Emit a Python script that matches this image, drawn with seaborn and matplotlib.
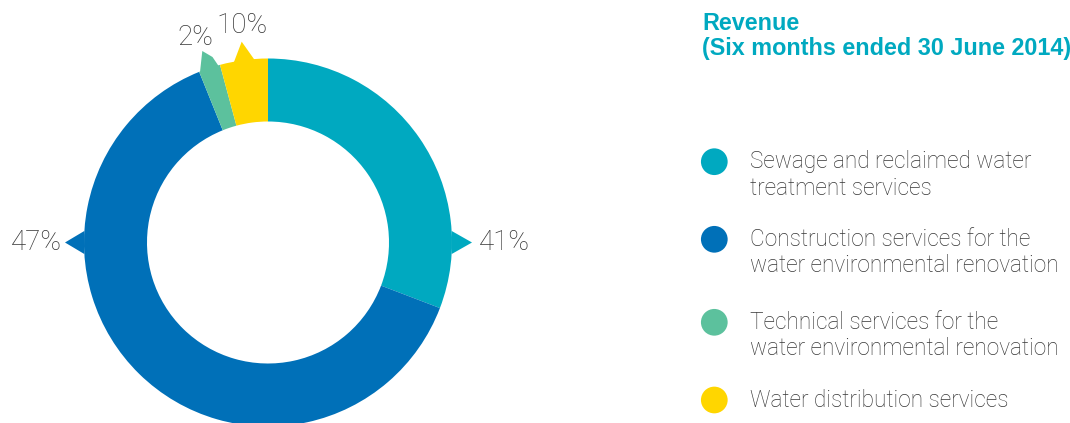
import numpy as np
import pandas as pd
import seaborn as sns
import matplotlib.pyplot as plt
from matplotlib.patches import Polygon

# segments, clockwise from 12 o'clock
segments = [
    "Sewage and reclaimed water\ntreatment services",
    "Construction services for the\nwater environmental renovation",
    "Technical services for the\nwater environmental renovation",
    "Water distribution services",
]
pct_labels = ["41%", "47%", "2%", "10%"]
# arc share of each segment as drawn in the picture (degrees of ring / 3.6)
arc_share = [30.8, 63.1, 1.9, 4.2]
colors = ["#00A9C0", "#0070B8", "#5CC19D", "#FFD600"]

title = "Revenue\n(Six months ended 30 June 2014)"

sns.set_theme(style="white")
plt.rcParams["font.family"] = ["Roboto", "DejaVu Sans"]

W, H = 1070, 423
fig = plt.figure(figsize=(W / 100, H / 100), dpi=100)
ax = fig.add_axes([0, 0, 1, 1])

cx, cy = 268, H - 242.5
r_out, r_in = 184, 121

wedges, _ = ax.pie(
    arc_share,
    colors=colors,
    startangle=90,
    counterclock=False,
    radius=r_out,
    center=(cx, cy),
    wedgeprops=dict(width=r_out - r_in, linewidth=0),
)
ax.set_xlim(0, W)
ax.set_ylim(0, H)
ax.set_aspect("equal")
ax.axis("off")


def on_ring(deg, r=r_out):
    a = np.deg2rad(deg)
    return (cx + r * np.cos(a), cy + r * np.sin(a))


# pointer marks next to the percentage labels
pointers = [
    [on_ring(3.6), (cx + r_out + 20, cy), on_ring(-3.6)],
    [on_ring(176.4), (cx - r_out - 19, cy), on_ring(183.6)],
    [on_ring(112, r_out - 2), (202.3, H - 51), (212.5, H - 57), on_ring(105.5, r_out - 2)],
    [on_ring(101, r_out - 2), (241.7, H - 41.7), on_ring(94, r_out - 2)],
]
for pts, c in zip(pointers, colors):
    ax.add_patch(Polygon(pts, closed=True, color=c, linewidth=0))

txt_color = "#363636"
pct_kw = dict(fontsize=20, fontweight="light", color=txt_color)
ax.text(479, cy, pct_labels[0], ha="left", va="center", **pct_kw)
ax.text(62, cy, pct_labels[1], ha="right", va="center", **pct_kw)
ax.text(195.5, H - 37, pct_labels[2], ha="center", va="center", **pct_kw)
ax.text(242, H - 25.5, pct_labels[3], ha="center", va="center", **pct_kw)

# title
ax.text(702, H - 12, title, ha="left", va="top", fontsize=16.8,
        fontweight="bold", color=colors[0], linespacing=1.12,
        family=["Liberation Sans", "DejaVu Sans"])

# legend
dot_y = [H - 161.7, H - 239.3, H - 322.3, H - 400]
leg = pd.DataFrame({"x": [714.3] * 4, "y": dot_y, "seg": segments})
sns.scatterplot(data=leg, x="x", y="y", hue="seg", palette=colors,
                s=370, linewidth=0, legend=False, ax=ax)
ax.set_xlim(0, W)
ax.set_ylim(0, H)
ax.axis("off")

for y, lab in zip(dot_y, segments):
    for i, line in enumerate(lab.split("\n")):
        ax.text(750, y - 6.5 - 26.5 * i, line, ha="left", va="baseline",
                fontsize=16.3, fontweight="light", color=txt_color)

fig.savefig("out.png", dpi=100)
